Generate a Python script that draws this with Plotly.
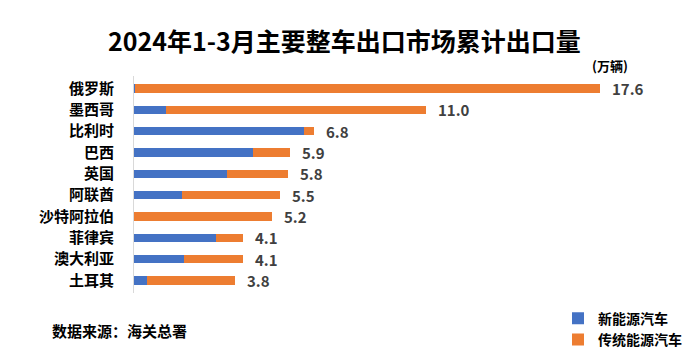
import plotly.graph_objects as go

countries = ["俄罗斯", "墨西哥", "比利时", "巴西", "英国", "阿联酋", "沙特阿拉伯", "菲律宾", "澳大利亚", "土耳其"]
totals = [17.6, 11.0, 6.8, 5.9, 5.8, 5.5, 5.2, 4.1, 4.1, 3.8]
nev = [0.05, 1.2, 6.4, 4.5, 3.5, 1.8, 0.0, 3.1, 1.9, 0.5]
ice = [17.55, 9.8, 0.4, 1.4, 2.3, 3.7, 5.2, 1.0, 2.2, 3.3]
total_labels = ["17.6", "11.0", "6.8", "5.9", "5.8", "5.5", "5.2", "4.1", "4.1", "3.8"]

FONT = "Noto Sans CJK SC"
BLUE = "#4472C4"
ORANGE = "#ED7D31"

fig = go.Figure()
fig.add_trace(go.Bar(y=countries, x=nev, orientation="h", name="新能源汽车",
                     marker=dict(color=BLUE, line=dict(width=0))))
fig.add_trace(go.Bar(y=countries, x=ice, orientation="h", name="传统能源汽车",
                     marker=dict(color=ORANGE, line=dict(width=0))))

annotations = []
for c, t, lab in zip(countries, totals, total_labels):
    annotations.append(dict(x=t, y=c, xref="x", yref="y", text=lab, showarrow=False,
                            xanchor="left", yanchor="middle", xshift=10,
                            font=dict(family=FONT, size=15, color="#404040", weight="bold")))
annotations.append(dict(text="<b>(万辆)</b>", xref="paper", yref="paper", x=0.86, y=1.05,
                        xanchor="left", yanchor="middle", showarrow=False,
                        font=dict(family=FONT, size=13, color="#000000")))
annotations.append(dict(text="<b>数据来源：海关总署</b>", xref="paper", yref="paper",
                        x=(50 - 134) / 530, y=(293 - 330) / 217, xanchor="left", yanchor="middle",
                        showarrow=False, font=dict(family=FONT, size=15, color="#000000")))

fig.update_layout(
    width=700, height=354,
    barmode="stack", bargap=0.62,
    paper_bgcolor="white", plot_bgcolor="white",
    margin=dict(l=134, r=36, t=76, b=61, autoexpand=False),
    font=dict(family=FONT, color="#000000"),
    title=dict(text="<b>2024年1-3月主要整车出口市场累计出口量</b>",
               x=0.492, xref="container", xanchor="center", y=0.88, yanchor="middle",
               font=dict(family=FONT, size=25, color="#000000")),
    xaxis=dict(range=[0, 20], showgrid=False, zeroline=False, showticklabels=False,
               ticks="", showline=False),
    yaxis=dict(autorange="reversed", showgrid=False, zeroline=False,
               showline=True, linecolor="#D9D9D9", linewidth=1,
               ticks="", ticklabelstandoff=16,
               tickfont=dict(family=FONT, size=15, color="#000000", weight="bold")),
    legend=dict(x=0.80, y=-0.045, xanchor="left", yanchor="top", traceorder="normal",
                orientation="v", font=dict(family=FONT, size=14, color="#000000", weight="bold"),
                itemwidth=30, tracegroupgap=0, bgcolor="rgba(0,0,0,0)"),
    annotations=annotations,
)

fig.write_html("out.html")
